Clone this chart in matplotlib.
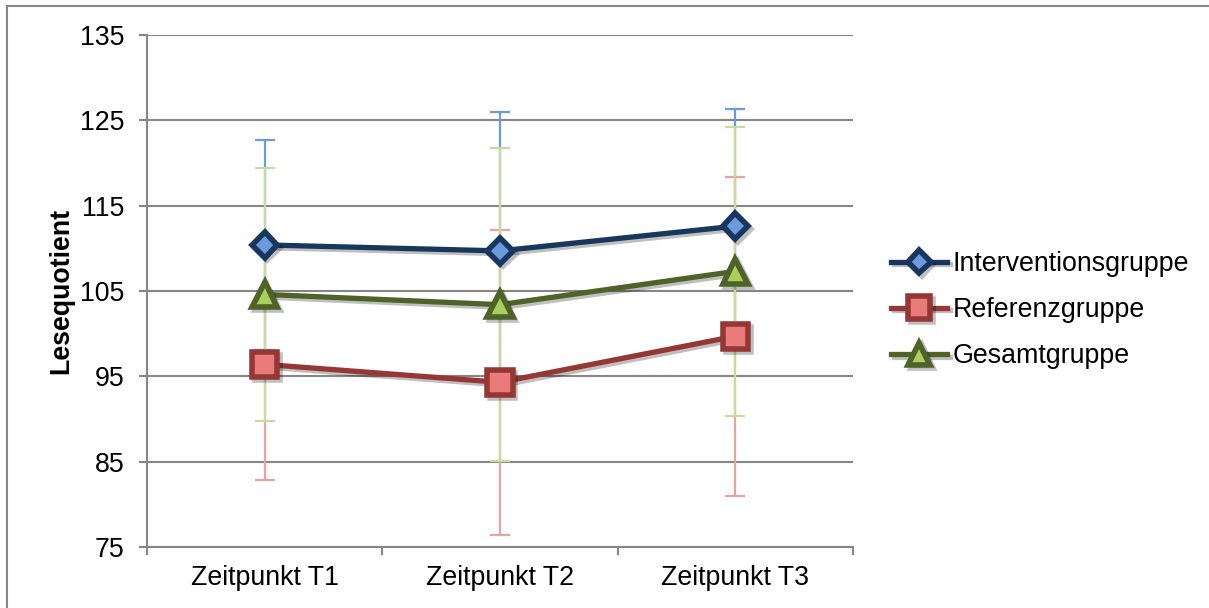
import matplotlib.pyplot as plt
import matplotlib.patheffects as pe
from matplotlib.lines import Line2D

plt.rcParams['font.family'] = ['Liberation Sans', 'DejaVu Sans']

# Daten
zeitpunkte = ["Zeitpunkt T1", "Zeitpunkt T2", "Zeitpunkt T3"]
gruppen = ["Interventionsgruppe", "Referenzgruppe", "Gesamtgruppe"]
intervention = [110.4, 109.7, 112.6]
intervention_sd = [12.3, 16.3, 13.7]
referenz = [96.4, 94.3, 99.7]
referenz_sd = [13.5, 17.9, 18.7]
gesamt = [104.6, 103.4, 107.3]
gesamt_sd = [14.8, 18.35, 16.95]
y_ticks = [75, 85, 95, 105, 115, 125, 135]

werte = [intervention, referenz, gesamt]
sds = [intervention_sd, referenz_sd, gesamt_sd]
linien_farbe = ["#17375E", "#953735", "#4F6228"]
marker_farbe = ["#6C9BDD", "#EA7B7B", "#AACF5E"]
fehler_farbe = ["#6A9BE0", "#E8A3A3", "#C8DA9E"]
marker = ["D", "s", "^"]
marker_groesse = [13, 18, 18]
fs = 19.3

fig = plt.figure(figsize=(12.09, 6.08), dpi=100)
ax = fig.add_axes([147 / 1209, 1 - 547 / 608, 706 / 1209, 512 / 608])

x = list(range(len(zeitpunkte)))

# Fehlerbalken zuerst (blau, rot, grün)
for i in range(3):
    ax.errorbar(x, werte[i], yerr=sds[i], fmt="none", ecolor=fehler_farbe[i],
                elinewidth=1.6, capsize=7, capthick=1.6, zorder=2 + i * 0.1)

schatten = [pe.SimpleLineShadow(offset=(2, -2), alpha=0.25), pe.Normal()]
for i in range(3):
    ax.plot(x, werte[i], color=linien_farbe[i], lw=3.8, marker=marker[i],
            ms=marker_groesse[i], mfc=marker_farbe[i], mec=linien_farbe[i],
            mew=4, zorder=4, path_effects=schatten, label=gruppen[i])

ax.set_xlim(-0.5, 2.5)
ax.set_ylim(75, 135)
ax.set_yticks(y_ticks)
ax.set_xticks(x)
ax.set_xticklabels(zeitpunkte, fontsize=fs)
ax.set_xticks([-0.5, 0.5, 1.5, 2.5], minor=True)
ax.tick_params(axis="x", which="major", length=0, pad=13)
ax.tick_params(axis="x", which="minor", length=6, width=1.5, color="#868686")
ax.tick_params(axis="y", length=6, width=1.5, color="#868686", labelsize=fs, pad=10)

ax.grid(axis="y", color="#868686", lw=1.5, zorder=0)
ax.set_axisbelow(True)
for s in ["top", "right"]:
    ax.spines[s].set_visible(False)
for s in ["left", "bottom"]:
    ax.spines[s].set_color("#868686")
    ax.spines[s].set_linewidth(1.5)

ax.set_ylabel("Lesequotient", fontsize=fs, fontweight="bold", labelpad=4)

leg = fig.legend(loc="center left", bbox_to_anchor=(0.728, 0.49), frameon=False,
                 fontsize=fs, handlelength=2.1, handletextpad=0.2,
                 labelspacing=0.75, borderaxespad=0, markerscale=0.9)

# Rahmen
fig.add_artist(Line2D([7 / 1209, 1], [1 - 6 / 608, 1 - 6 / 608],
                      transform=fig.transFigure, color="#868686", lw=1.5))
fig.add_artist(Line2D([7 / 1209, 7 / 1209], [0, 1 - 6 / 608],
                      transform=fig.transFigure, color="#868686", lw=1.5))

fig.savefig("out.png", dpi=100)
